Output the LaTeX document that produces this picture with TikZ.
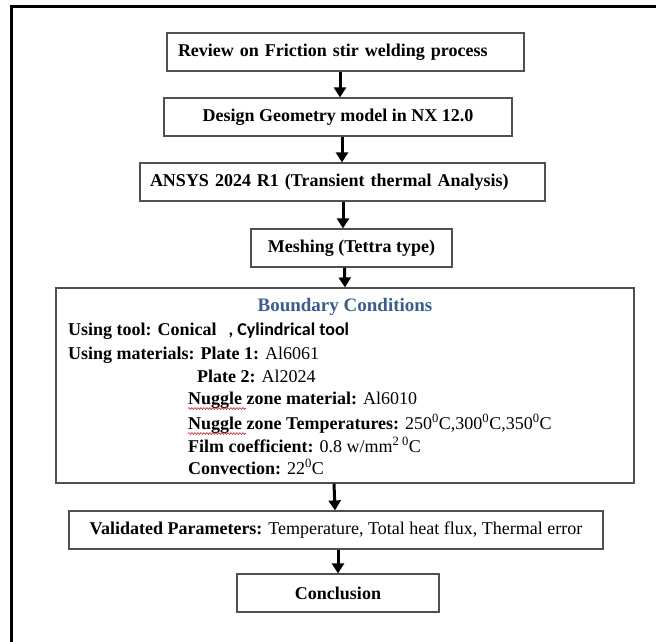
\documentclass[tikz,border=0pt]{standalone}
\usepackage{fontspec}
\setmainfont{Liberation Serif}
\newfontfamily\calibri{Carlito}
\usetikzlibrary{arrows.meta,decorations.pathmorphing}
\definecolor{headblue}{RGB}{59,94,145}
\definecolor{boxgray}{RGB}{80,80,80}
\definecolor{spellred}{RGB}{200,40,40}
\tikzset{
  flowbox/.style={draw=boxgray, line width=1.2pt, rectangle, inner ysep=0pt, minimum height=38pt,
    font=\fontsize{18pt}{22pt}\selectfont\bfseries},
  flowarrow/.style={line width=3pt, -{Triangle[length=10pt,width=12pt]}},
  bctext/.style={anchor=base west, inner sep=0pt, font=\fontsize{18pt}{22pt}\selectfont},
  squiggle/.style={spellred, line width=0.6pt, decorate, decoration={snake, segment length=3pt, amplitude=0.9pt}}
}
\begin{document}
\begin{tikzpicture}[x=1pt,y=-1pt]
\useasboundingbox (0,0) rectangle (656,642);
\fill[white] (0,0) rectangle (656,642);
% frame (top and left edges)
\draw[line width=3pt] (11.5,642) -- (11.5,6.5) -- (656,6.5);

\node[flowbox, text width=335pt, inner xsep=11pt, align=left] (review) at (345.5,52) {Review on Friction stir welding process};
\node[flowbox, minimum width=348pt] (design) at (338,117) {Design Geometry model in NX 12.0};
\node[flowbox, text width=385pt, inner xsep=10pt, align=left] (ansys) at (342.5,182) {ANSYS 2024 R1 (Transient thermal Analysis)};
\node[flowbox, minimum width=201pt] (mesh) at (351.5,248) {Meshing (Tettra type)};
\node[draw=boxgray, line width=1.2pt, rectangle, minimum width=578pt, minimum height=195pt] (bc) at (345,385.5) {};
\node[flowbox, minimum width=534pt, font=\fontsize{18pt}{22pt}\selectfont] (valid) at (336,530) {\textbf{Validated Parameters:} Temperature, Total heat flux, Thermal error};
\node[flowbox, minimum width=202pt] (concl) at (338,593) {Conclusion};

% boundary conditions text
\node[anchor=base, inner sep=0pt, font=\fontsize{19pt}{22pt}\selectfont\bfseries, text=headblue] (bchead) at (345,311) {Boundary Conditions};
\node[bctext] (l1) at (68,335) {\textbf{Using tool: Conical}\hspace{12pt}{\calibri\bfseries , Cylindrical tool}};
\node[bctext] (l2) at (68,359) {\textbf{Using materials: Plate 1:} Al6061};
\node[bctext] (l3) at (197,382) {\textbf{Plate 2:} Al2024};
\node[bctext] (l4) at (188,404) {\textbf{Nuggle zone material:} Al6010};
\node[bctext] (l5) at (188,429) {\textbf{Nuggle zone Temperatures:} 250\textsuperscript{0}C,300\textsuperscript{0}C,350\textsuperscript{0}C};
\node[bctext] (l6) at (188,452) {\textbf{Film coefficient:} 0.8 w/mm\textsuperscript{2 0}C};
\node[bctext] (l7) at (188,474) {\textbf{Convection:} 22\textsuperscript{0}C};
\draw[squiggle] (188,408.5) -- (246,408.5);
\draw[squiggle] (188,433.5) -- (246,433.5);

% arrows
\draw[flowarrow] ([xshift=-5.5pt]review.south) -- ([xshift=2pt]design.north);
\draw[flowarrow] ([xshift=4pt]design.south) -- ([xshift=-0.5pt]ansys.north);
\draw[flowarrow] ([xshift=0.5pt]ansys.south) -- ([xshift=-8.5pt]mesh.north);
\draw[flowarrow] ([xshift=-7pt]mesh.south) -- ([xshift=0pt]bc.north);
\draw[flowarrow] ([xshift=-11pt]bc.south) -- ([xshift=-1pt]valid.north);
\draw[flowarrow] ([xshift=2pt]valid.south) -- ([xshift=0pt]concl.north);
\end{tikzpicture}
\end{document}
